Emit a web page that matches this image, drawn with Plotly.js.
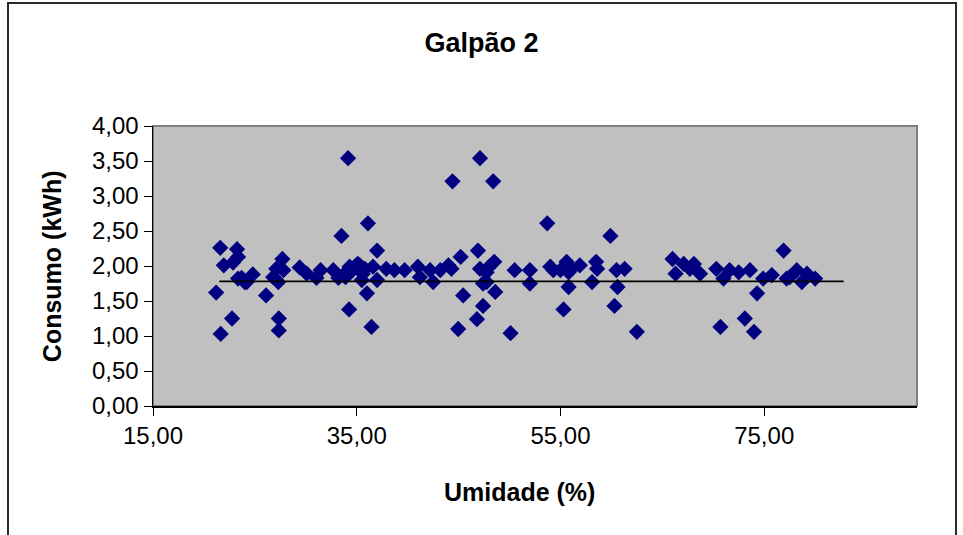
<!DOCTYPE html>
<html>
<head>
<meta charset="utf-8">
<script src="https://cdn.plot.ly/plotly-3.0.1.min.js"></script>
<style>
  html, body { margin: 0; padding: 0; background: #ffffff; }
  #chart { position: absolute; left: 0; top: 0; width: 963px; height: 535px; }
  #frame { position: absolute; left: 7px; top: 2px; width: 946px; height: 600px;
           border: 2px solid #2a2a2a; pointer-events: none; }
</style>
</head>
<body>
<div id="chart"></div>
<div id="frame"></div>
<script>
// Umidade (%) values
const umidade = [
  21.2, 21.6, 21.65, 21.95, 22.76, 22.86, 23.25, 23.35, 23.35, 23.7,
  24.0, 24.2, 24.8, 26.1, 26.8, 27.1, 27.3, 27.35, 27.35, 27.7,
  27.8, 29.4, 30.1, 31.05, 31.45, 32.7, 33.2, 33.5, 33.66, 33.9,
  34.15, 34.25, 34.3, 34.6, 34.8, 35.1, 35.3, 35.5, 35.6, 35.8,
  36.0, 36.1, 36.45, 36.6, 37.0, 37.0, 37.9, 38.7, 39.7, 41.0,
  41.2, 42.2, 42.5, 43.2, 44.0, 44.3, 44.4, 44.96, 45.2, 45.45,
  46.8, 46.9, 47.1, 47.1, 47.4, 47.4, 47.75, 47.75, 48.0, 48.4,
  48.5, 48.6, 50.1, 50.5, 52.0, 52.0, 53.7, 54.0, 54.3, 55.0,
  55.3, 55.6, 55.8, 55.8, 56.1, 56.9, 58.1, 58.5, 58.6, 59.9,
  60.3, 60.5, 60.6, 61.3, 62.5, 66.0, 66.3, 67.1, 67.7, 68.1,
  68.7, 70.3, 70.7, 71.0, 71.6, 72.5, 73.1, 73.6, 74.0, 74.3,
  74.9, 75.75, 76.9, 77.2, 77.5, 78.2, 78.7, 79.2, 80.0
];
// Consumo (kWh) values
const consumo = [
  1.62, 2.26, 1.03, 2.01, 1.25, 2.05, 2.24, 2.13, 1.82, 1.83,
  1.77, 1.77, 1.88, 1.58, 1.84, 1.96, 1.77, 1.25, 1.08, 2.10,
  1.94, 1.98, 1.89, 1.83, 1.94, 1.94, 1.83, 2.43, 1.87, 1.84,
  3.54, 1.38, 1.99, 1.94, 1.99, 2.03, 2.01, 1.80, 1.89, 1.96,
  1.61, 2.61, 1.13, 1.99, 2.22, 1.80, 1.96, 1.94, 1.94, 1.99,
  1.84, 1.94, 1.77, 1.94, 2.01, 1.96, 3.21, 1.10, 2.13, 1.58,
  1.24, 2.22, 3.54, 1.96, 1.75, 1.43, 1.91, 1.77, 1.99, 3.21,
  2.06, 1.63, 1.04, 1.94, 1.94, 1.75, 2.61, 1.99, 1.94, 1.94,
  1.38, 2.06, 1.91, 1.70, 1.96, 2.01, 1.77, 2.06, 1.96, 2.43,
  1.43, 1.94, 1.70, 1.96, 1.06, 2.10, 1.89, 2.03, 1.96, 2.03,
  1.89, 1.96, 1.13, 1.82, 1.94, 1.91, 1.25, 1.94, 1.06, 1.61,
  1.82, 1.87, 2.22, 1.82, 1.84, 1.94, 1.77, 1.89, 1.82
];
// Trend line (horizontal)
const trendX = [21.5, 82.8];
const trendY = [1.78, 1.78];

const xTicks = [15, 35, 55, 75];
const yTicks = [0, 0.5, 1, 1.5, 2, 2.5, 3, 3.5, 4];

const titleText = 'Galpão 2';
const xTitleText = 'Umidade (%)';
const yTitleText = 'Consumo (kWh)';

const font = "'Liberation Sans', Arial, sans-serif";

const traces = [
  {
    x: umidade, y: consumo, type: 'scatter', mode: 'markers',
    marker: { symbol: 'diamond', size: 12.5, color: '#000080', line: { width: 0 } },
    hoverinfo: 'x+y', showlegend: false
  },
  {
    x: trendX, y: trendY, type: 'scatter', mode: 'lines',
    line: { color: '#000000', width: 1.6 }, showlegend: false, hoverinfo: 'skip'
  }
];

const layout = {
  width: 963, height: 535,
  margin: { l: 153, r: 46, t: 126, b: 129 },
  paper_bgcolor: '#ffffff',
  plot_bgcolor: '#c0c0c0',
  separators: ',.',
  font: { family: font, color: '#000000', size: 24 },
  title: {
    text: titleText,
    font: { family: font, size: 27, color: '#000000', weight: 'bold' },
    x: 0.5, xref: 'container', xanchor: 'center',
    y: 0.921, yref: 'container', yanchor: 'middle'
  },
  xaxis: {
    range: [15, 90], tickvals: xTicks, tickformat: '.2f',
    ticks: 'outside', ticklen: 8, tickwidth: 1, tickcolor: '#000000',
    showgrid: false, zeroline: false,
    showline: true, linecolor: '#000000', linewidth: 1.5,
    tickfont: { family: font, size: 24, color: '#000000' }
  },
  yaxis: {
    range: [0, 4], tickvals: yTicks, tickformat: '.2f',
    ticks: 'outside', ticklen: 8, tickwidth: 1, tickcolor: '#000000',
    showgrid: false, zeroline: false,
    showline: true, linecolor: '#000000', linewidth: 1.5,
    tickfont: { family: font, size: 24, color: '#000000' }
  },
  annotations: [
    { text: xTitleText, xref: 'paper', yref: 'paper', x: 0.48, y: -0.307,
      xanchor: 'center', yanchor: 'middle', showarrow: false,
      font: { family: font, size: 25, color: '#000000', weight: 'bold' } },
    { text: yTitleText, xref: 'paper', yref: 'paper', x: -0.132, y: 0.5,
      xanchor: 'center', yanchor: 'middle', showarrow: false, textangle: -90,
      font: { family: font, size: 25, color: '#000000', weight: 'bold' } }
  ],
  shapes: [
    { type: 'rect', xref: 'paper', yref: 'paper', x0: 0, x1: 1, y0: 0, y1: 1,
      line: { color: '#808080', width: 2 }, fillcolor: 'rgba(0,0,0,0)', layer: 'below' }
  ]
};

Plotly.newPlot('chart', traces, layout, { staticPlot: true, displayModeBar: false });
</script>
</body>
</html>
